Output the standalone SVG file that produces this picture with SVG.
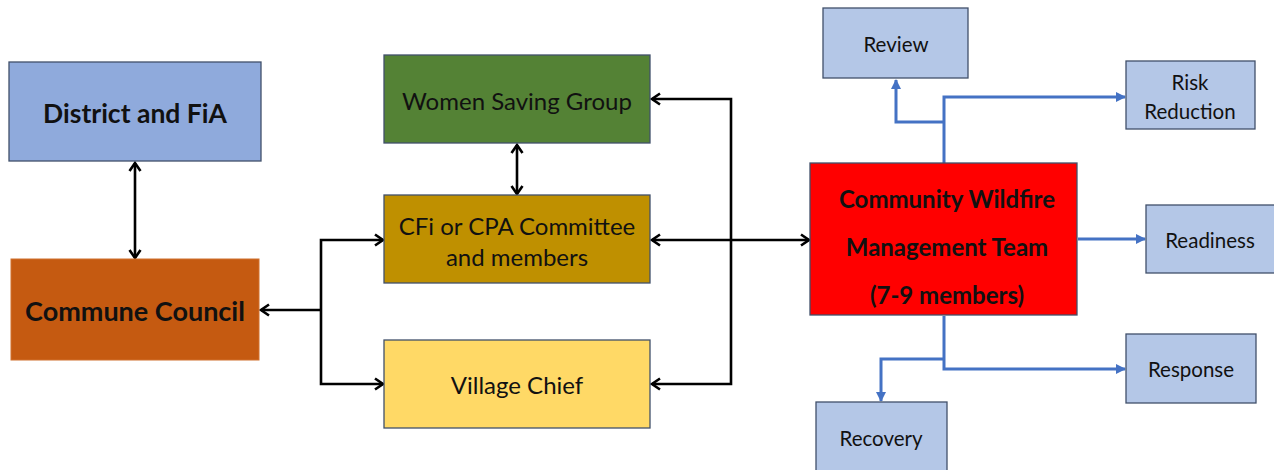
<svg xmlns="http://www.w3.org/2000/svg" width="1274" height="470" viewBox="0 0 1274 470">
  <style>
    .box { stroke: #41506a; stroke-width: 1.3; }
    .lbl { font-family: Lato, "Open Sans", "Liberation Sans", sans-serif; fill: #111; text-anchor: middle; dominant-baseline: central; }
    .b { font-weight: bold; }
    .blk { fill: none; stroke: #000; stroke-width: 2.6; }
    .blu { fill: none; stroke: #4472c4; stroke-width: 3; }
  </style>
  <defs>
    <marker id="openArrow" viewBox="0 0 14 14" refX="12" refY="7" markerWidth="14" markerHeight="14" markerUnits="userSpaceOnUse" orient="auto-start-reverse">
      <path d="M4,1.5 L12,7 L4,12.5" fill="none" stroke="#000" stroke-width="2.6"/>
    </marker>
    <marker id="blueArrow" viewBox="0 0 10 10" refX="9" refY="5" markerWidth="10" markerHeight="10" markerUnits="userSpaceOnUse" orient="auto">
      <path d="M0,0 L10,5 L0,10 Z" fill="#4472c4"/>
    </marker>
  </defs>

  <g id="connectors">
    <!-- District <-> Commune -->
    <line class="blk" x1="135" y1="163" x2="135" y2="258" marker-start="url(#openArrow)" marker-end="url(#openArrow)"/>
    <!-- Commune bracket -->
    <line class="blk" x1="321" y1="310" x2="261" y2="310" marker-end="url(#openArrow)"/>
    <polyline class="blk" points="383,240 321,240 321,384 383,384" marker-start="url(#openArrow)" marker-end="url(#openArrow)"/>
    <!-- Women Saving Group <-> CFi -->
    <line class="blk" x1="517" y1="145" x2="517" y2="194" marker-start="url(#openArrow)" marker-end="url(#openArrow)"/>
    <!-- CFi <-> CWMT -->
    <line class="blk" x1="652" y1="240" x2="809" y2="240" marker-start="url(#openArrow)" marker-end="url(#openArrow)"/>
    <!-- right bracket -->
    <polyline class="blk" points="652,99 731,99 731,384 652,384" marker-start="url(#openArrow)" marker-end="url(#openArrow)"/>

    <!-- CWMT outputs -->
    <polyline class="blu" points="944,163 944,97 1125,97" marker-end="url(#blueArrow)"/>
    <polyline class="blu" points="944,122 896,122 896,80" marker-end="url(#blueArrow)"/>
    <line class="blu" x1="1078" y1="239" x2="1145" y2="239" marker-end="url(#blueArrow)"/>
    <polyline class="blu" points="944,316 944,369 1125,369" marker-end="url(#blueArrow)"/>
    <polyline class="blu" points="944,359 881,359 881,401" marker-end="url(#blueArrow)"/>
  </g>

  <g id="district">
    <rect class="box" x="9" y="62" width="252" height="99" fill="#8faadc"/>
    <text class="lbl b" x="135" y="113" font-size="26.5">District and FiA</text>
  </g>
  <g id="commune">
    <rect x="11" y="259" width="248" height="101" fill="#c55a11" stroke="#d0702e" stroke-width="1"/>
    <text class="lbl b" x="135" y="310" font-size="27">Commune Council</text>
  </g>

  <g id="women-saving">
    <rect class="box" x="384" y="55" width="266" height="88" fill="#548235"/>
    <text class="lbl" x="517" y="100" font-size="24">Women Saving Group</text>
  </g>
  <g id="cfi-committee">
    <rect class="box" x="384" y="195" width="266" height="88" fill="#bf9000"/>
    <text class="lbl" x="517" y="225" font-size="24">CFi or CPA Committee</text>
    <text class="lbl" x="517" y="256" font-size="24">and members</text>
  </g>
  <g id="village-chief">
    <rect class="box" x="384" y="340" width="266" height="88" fill="#ffd966"/>
    <text class="lbl" x="517" y="384" font-size="24">Village Chief</text>
  </g>

  <g id="cwmt">
    <rect class="box" x="810" y="163" width="267" height="152" fill="#ff0000"/>
    <text class="lbl b" x="947" y="198" font-size="24">Community Wildfire</text>
    <text class="lbl b" x="947" y="246" font-size="24">Management Team</text>
    <text class="lbl b" x="947" y="294" font-size="24">(7-9 members)</text>
  </g>

  <g id="review">
    <rect class="box" x="823" y="8" width="145" height="70" fill="#b4c7e7"/>
    <text class="lbl" x="896" y="44" font-size="20.5">Review</text>
  </g>
  <g id="risk-reduction">
    <rect class="box" x="1126" y="61" width="129" height="68" fill="#b4c7e7"/>
    <text class="lbl" x="1190" y="82" font-size="20.5">Risk</text>
    <text class="lbl" x="1190" y="111" font-size="20.5">Reduction</text>
  </g>
  <g id="readiness">
    <rect class="box" x="1146" y="205" width="132" height="68" fill="#b4c7e7"/>
    <text class="lbl" x="1210" y="240" font-size="20.5">Readiness</text>
  </g>
  <g id="response">
    <rect class="box" x="1126" y="334" width="130" height="69" fill="#b4c7e7"/>
    <text class="lbl" x="1191" y="369" font-size="20.5">Response</text>
  </g>
  <g id="recovery">
    <rect class="box" x="816" y="402" width="131" height="72" fill="#b4c7e7"/>
    <text class="lbl" x="881" y="438" font-size="20.5">Recovery</text>
  </g>
</svg>
